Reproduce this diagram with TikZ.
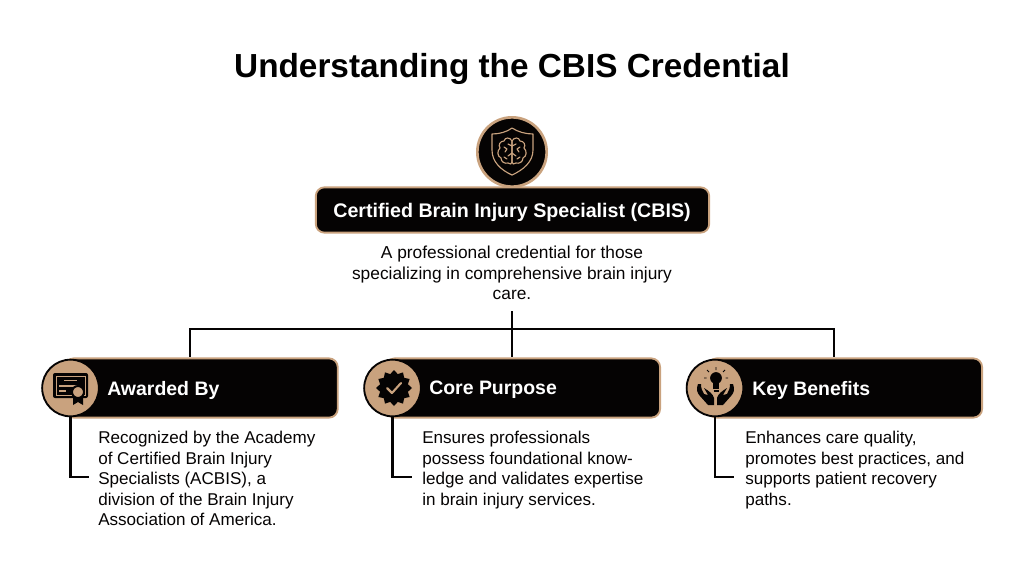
\documentclass[tikz,border=0pt]{standalone}
\usepackage{fontspec}
\setmainfont{Liberation Sans}
\usetikzlibrary{positioning,shapes.geometric}
\definecolor{tan}{HTML}{C9A27E}
\definecolor{ink}{HTML}{050303}
\tikzset{
  titletext/.style={font=\bfseries\fontsize{25}{30}\selectfont,text=black,inner sep=0pt},
  headbox/.style={draw=tan,fill=ink,line width=1.4pt,rounded corners=6.5pt,minimum width=295pt,minimum height=34pt,inner sep=0pt},
  cardbox/.style={draw=tan,fill=ink,line width=1.4pt,rounded corners=6.5pt,anchor=west,minimum height=44.4pt,inner sep=0pt},
  headtext/.style={font=\bfseries\fontsize{14.75}{18}\selectfont,text=white,inner sep=0pt},
  cardtitle/.style={font=\bfseries\fontsize{14.6}{18}\selectfont,text=white,anchor=west,inner sep=0pt},
  bodytext/.style={font=\fontsize{12.8}{15.4}\selectfont,text=ink,align=left,anchor=north west,inner sep=0pt},
  disc/.style={circle,draw=ink,fill=tan,line width=1.4pt,minimum size=42.5pt,inner sep=0pt},
  link/.style={draw=ink,line width=2.1pt},
  thinicon/.style={draw=tan,line width=0.85pt,line join=round,line cap=round},
}
\begin{document}
\begin{tikzpicture}[x=0.75pt,y=-0.75pt]
 \useasboundingbox (0,0) rectangle (1024,572);
 \node[titletext] (title) at (512,69) {Understanding the CBIS Credential};

 % links first, boxes go over them
 \coordinate (hubtop) at (512,311);
 \coordinate (hub) at (512,329);
 \coordinate (awardend) at (89,477);
 \coordinate (purposeend) at (412,477);
 \coordinate (benefitend) at (734,477);

 \node[headbox] (cbis) at (512.5,210) {};
 \node[headtext] (cbistext) at (512,212) {Certified Brain Injury Specialist (CBIS)};
 \node[circle,draw=tan,fill=ink,line width=2pt,minimum size=52pt,inner sep=0pt] (shield) at (512,152) {};
 \node[font=\fontsize{13}{15.4}\selectfont,text=ink,align=center,inner sep=0pt,anchor=north] (cbisdesc) at (512,246)
   {A professional credential for those\\specializing in comprehensive brain injury\\care.};

 \node[cardbox,minimum width=204.6pt] (award) at (64,388) {};
 \node[cardbox,minimum width=205.6pt] (purpose) at (385,388) {};
 \node[cardbox,minimum width=205.6pt] (benefit) at (707,388) {};
 \node[disc] (awarddisc) at (70.5,388) {};
 \node[disc] (purposedisc) at (392.5,388) {};
 \node[disc] (benefitdisc) at (715,388) {};

 \draw[link] (hubtop) -- (hub);
 \draw[link] (hub) -- (purpose.north -| hub);
 \draw[link] (hub) -| (award.north -| 190,0);
 \draw[link] (hub) -| (benefit.north -| 834,0);
 \draw[link] (awarddisc.south) |- (awardend);
 \draw[link] (purposedisc.south) |- (purposeend);
 \draw[link] (benefitdisc.south) |- (benefitend);

 \node[cardtitle] (awardtitle) at (107,390) {Awarded By};
 \node[cardtitle] (purposetitle) at (429,390) {Core Purpose};
 \node[cardtitle] (benefittitle) at (752,390) {Key Benefits};

 \node[bodytext] (awardtext) at (98,431) {Recognized by the Academy\\of Certified Brain Injury\\Specialists (ACBIS), a\\division of the Brain Injury\\Association of America.};
 \node[bodytext] (purposetext) at (422,431) {Ensures professionals\\possess foundational know-\\ledge and validates expertise\\in brain injury services.};
 \node[bodytext] (benefittext) at (745,431) {Enhances care quality,\\promotes best practices, and\\supports patient recovery\\paths.};

 % shield and brain
 \draw[thinicon] (512,128) .. controls (518,132) and (526,134) .. (533,134) -- (533,150) .. controls (533,162) and (523,170) .. (512,175)
   .. controls (501,170) and (492,162) .. (492,150) -- (492,134) .. controls (499,134) and (507,132) .. (512,128) -- cycle;
 \draw[thinicon] (512,141) .. controls (510,137) and (505,137) .. (504,141) .. controls (500,141) and (498,145) .. (500,148)
   .. controls (497,151) and (497,156) .. (501,158) .. controls (501,162) and (505,164) .. (508,163) .. controls (510,165) and (512,164) .. (512,162) -- cycle;
 \draw[thinicon] (512,141) .. controls (514,137) and (519,137) .. (520,141) .. controls (524,141) and (526,145) .. (524,148)
   .. controls (527,151) and (527,156) .. (523,158) .. controls (523,162) and (519,164) .. (516,163) .. controls (514,165) and (512,164) .. (512,162) -- cycle;
 \draw[thinicon] (512,146) -- (508,144) (504,147) -- (507,149) -- (505,152) (512,153) -- (508,156) (504,157) -- (507,159);
 \draw[thinicon] (512,146) -- (516,144) (520,147) -- (517,149) -- (519,152) (512,153) -- (516,156) (520,157) -- (517,159);

 % certificate
 \fill[ink,rounded corners=1.5pt] (53,373) rectangle (88,398);
 \draw[tan,line width=0.6pt] (56,376) rectangle (85,395);
 \draw[tan,line width=0.8pt] (64,380.5) -- (77,380.5) (59,386) -- (78,386) (59,391) -- (66,391);
 \fill[ink] (73,396) -- (73,405) -- (78,402) -- (83,405) -- (83,396) -- cycle;
 \draw[ink,fill=tan,line width=1.5pt] (78,392) circle (4.5pt);

 % badge
 \node[star,star points=12,star point ratio=1.25,fill=ink,minimum size=27pt,inner sep=0pt] (badge) at (394,388) {};
 \draw[tan,line width=1.6pt,line cap=round,line join=round] (387,388) -- (392,393) -- (401,383);

 % bulb and hands
 \fill[ink] (716,378) circle (4.4pt);
 \fill[ink] (713,382) rectangle (719,389);
 \draw[ink,line width=0.8pt] (713.5,391) -- (718.5,391);
 \draw[ink,line width=0.7pt] (716,367) -- (716,370) (707,370) -- (709,372) (725,370) -- (723,372) (704,378) -- (706.5,378) (725.5,378) -- (728,378);
 \fill[ink] (698,384) .. controls (696,389) and (697,393) .. (700,396) -- (708,405) -- (714,405) -- (714,398)
   .. controls (713,394) and (709,391) .. (704,388) -- (708,395) -- (704,394) .. controls (702,391) and (701,388) .. (701,384) -- cycle;
 \fill[ink] (733,384) .. controls (735,389) and (734,393) .. (731,396) -- (723,405) -- (717,405) -- (717,398)
   .. controls (718,394) and (722,391) .. (727,388) -- (723,395) -- (727,394) .. controls (729,391) and (730,388) .. (730,384) -- cycle;
\end{tikzpicture}
\end{document}
